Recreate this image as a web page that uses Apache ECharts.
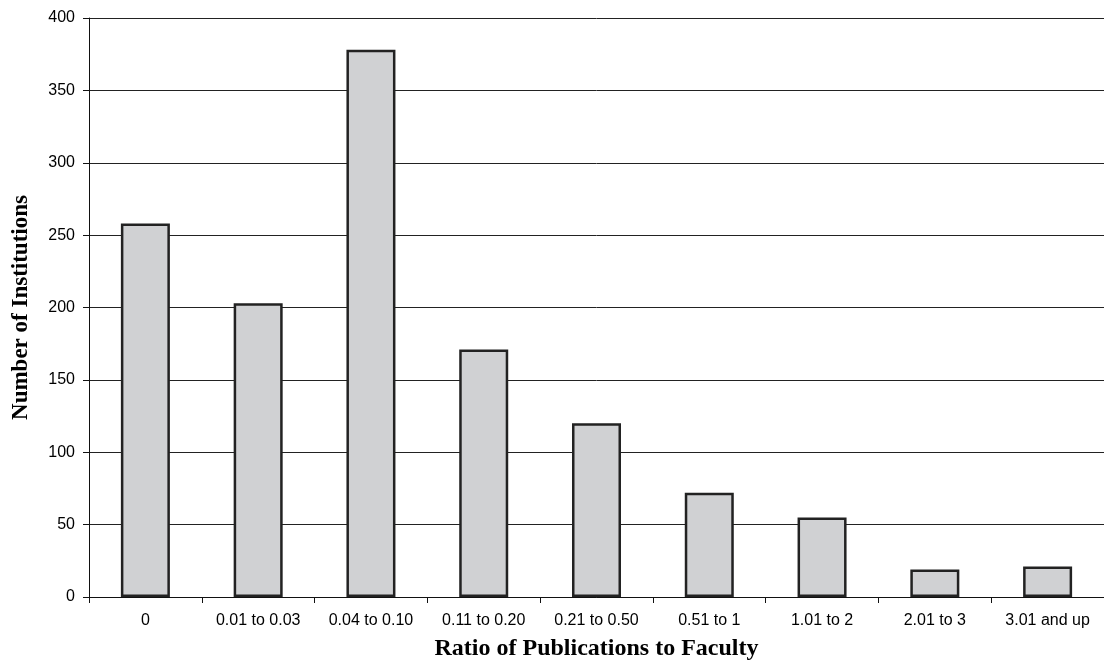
<!DOCTYPE html>
<html>
<head>
<meta charset="utf-8">
<script src="https://cdn.jsdelivr.net/npm/echarts@6/dist/echarts.min.js"></script>
<style>
html,body{margin:0;padding:0;background:#fff;}
#chart{width:1104px;height:670px;}
</style>
</head>
<body>
<div id="chart"></div>
<script>
const categories = ["0", "0.01 to 0.03", "0.04 to 0.10", "0.11 to 0.20", "0.21 to 0.50", "0.51 to 1", "1.01 to 2", "2.01 to 3", "3.01 and up"];
const institutions = [258, 203, 378, 171, 120, 72, 55, 19, 21];
const xTitle = "Ratio of Publications to Faculty";
const yTitle = "Number of Institutions";

const chart = echarts.init(document.getElementById('chart'), null, {renderer: 'canvas'});
chart.setOption({
  animation: false,
  backgroundColor: '#ffffff',
  grid: {left: 89, top: 18, width: 1025, height: 579, containLabel: false},
  xAxis: {
    type: 'category',
    data: categories,
    boundaryGap: true,
    name: xTitle,
    nameLocation: 'middle',
    nameGap: 40,
    nameTextStyle: {fontFamily: 'Liberation Serif', fontWeight: 'bold', fontSize: 24, color: '#000'},
    axisLine: {show: true, lineStyle: {color: '#111', width: 1}},
    axisTick: {show: true, length: 6, lineStyle: {color: '#111'}},
    axisLabel: {fontFamily: 'Liberation Sans', fontSize: 16, color: '#000', margin: 16, interval: 0},
    splitLine: {show: false}
  },
  yAxis: {
    type: 'value',
    min: 0,
    max: 400,
    interval: 50,
    name: yTitle,
    nameLocation: 'middle',
    nameGap: 56,
    nameTextStyle: {fontFamily: 'Liberation Serif', fontWeight: 'bold', fontSize: 23, color: '#000'},
    axisLine: {show: true, lineStyle: {color: '#111', width: 1}},
    axisTick: {show: true, length: 6, lineStyle: {color: '#111'}},
    axisLabel: {fontFamily: 'Liberation Sans', fontSize: 16, color: '#000', margin: 14},
    splitLine: {show: true, lineStyle: {color: '#222', width: 1}}
  },
  series: [{
    type: 'bar',
    data: institutions,
    barWidth: 49,
    itemStyle: {color: '#d0d1d3', borderColor: '#222', borderWidth: 2.5}
  }]
});
</script>
</body>
</html>
